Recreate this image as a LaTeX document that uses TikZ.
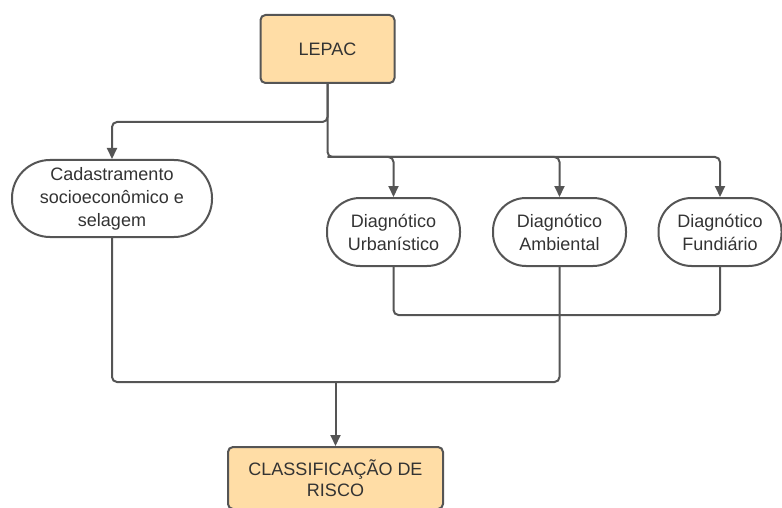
\documentclass[tikz,border=0pt]{standalone}
\usepackage{fontspec}
\setmainfont{Liberation Sans}
\usetikzlibrary{arrows.meta}
\definecolor{boxfill}{HTML}{FFDDA6}
\definecolor{edgec}{HTML}{555555}
\definecolor{txt}{HTML}{333333}
\begin{document}
\begin{tikzpicture}[x=1pt,y=-1pt,
 base/.style={draw=edgec, line width=2pt, text=txt, font=\fontsize{18}{23}\selectfont, align=center, inner sep=0pt},
 orangebox/.style={base, fill=boxfill, rounded corners=5pt},
 pill/.style={base, fill=white, rounded corners=33pt},
 conn/.style={draw=edgec, line width=2pt, rounded corners=5pt},
 arr/.style={conn, -{Triangle[length=11pt,width=10pt]}}]
\useasboundingbox (0,0) rectangle (782,508);
\node[orangebox, minimum width=134pt, minimum height=68pt] (lepac) at (327.5,49) {LEPAC};
\node[pill, minimum width=200pt, minimum height=77pt, rounded corners=38pt] (cad) at (112,198.5) {Cadastramento\\socioeconômico e\\selagem};
\node[pill, minimum width=133pt, minimum height=68pt] (urb) at (393.5,232) {Diagnótico\\Urbanístico};
\node[pill, minimum width=133pt, minimum height=68pt] (amb) at (559.5,232) {Diagnótico\\Ambiental};
\node[pill, minimum width=123pt, minimum height=68pt] (fun) at (720,232) {Diagnótico\\Fundiário};
\node[orangebox, minimum width=215pt, minimum height=62pt, font=\fontsize{18}{21}\selectfont] (cls) at (335.5,478) {CLASSIFICAÇÃO DE\\RISCO};
\coordinate (ya) at (0,122);
\coordinate (yb) at (0,157);
\coordinate (yc) at (0,315);
\coordinate (yd) at (0,382);
\draw[arr] (lepac.south) -- (lepac.south |- ya) -| (cad.north);
\draw[arr] (lepac.south) -- (lepac.south |- yb) -| (urb.north);
\draw[arr] (lepac.south |- yb) -| (amb.north);
\draw[arr] (lepac.south |- yb) -| (fun.north);
\draw[conn] (urb.south) -- (urb.south |- yc) -- (fun.south |- yc) -- (fun.south);
\draw[conn] (cad.south) -- (cad.south |- yd) -- (amb.south |- yd) -- (amb.south);
\draw[arr] (cls.north |- yd) -- (cls.north);
\end{tikzpicture}
\end{document}
